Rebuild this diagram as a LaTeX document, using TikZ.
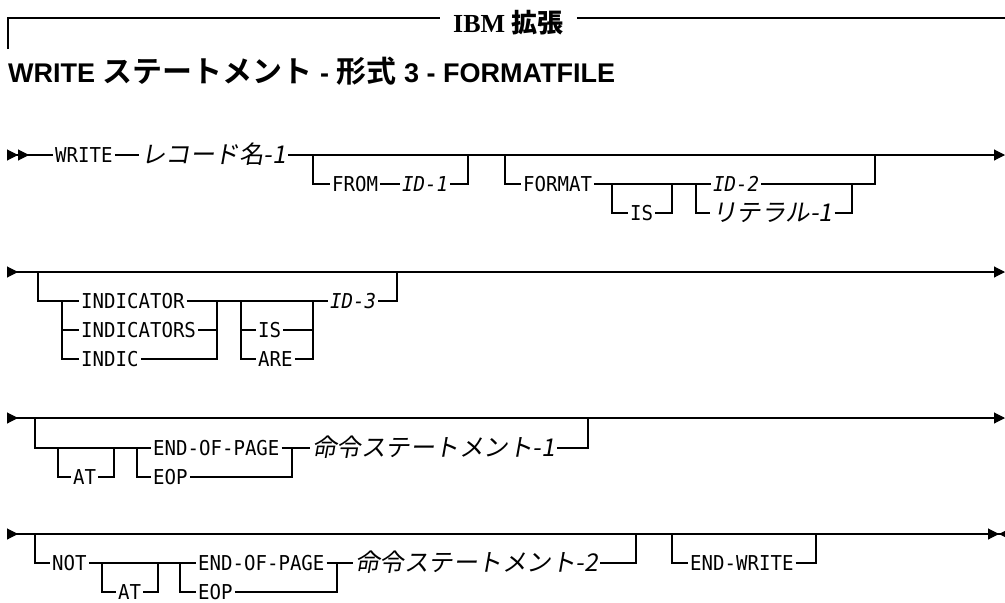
\documentclass[tikz,border=0pt]{standalone}
\usepackage{fontspec}
\setmainfont{Liberation Serif}
\newfontfamily\monofont{DejaVu Sans Mono}[FakeStretch=0.93]
\newfontfamily\jafont{Noto Sans CJK JP}[FakeSlant=0.18]
\newfontfamily\jabold{Noto Sans CJK JP Bold}
\newfontfamily\sansbold{Liberation Sans Bold}
\usetikzlibrary{arrows.meta}
\tikzset{
  tri/.tip={Triangle[length=11pt,width=11pt]},
  irt/.tip={Triangle[reversed,length=11pt,width=11pt]},
  rail/.style={
    line width=1.1pt,
    black
  },
  clave/.style={
    anchor=west,
    inner xsep=2pt,
    inner ysep=0pt,
    text height=14.9pt,
    text depth=0pt,
    font=\monofont\fontsize{20.5}{20.5}\selectfont
  },
  ident/.style={
    clave,
    font=\monofont\itshape\fontsize{20.5}{20.5}\selectfont
  },
  nombre/.style={
    anchor=west,
    inner xsep=2pt,
    inner ysep=0pt,
    text height=17.6pt,
    text depth=0pt,
    font=\jafont\fontsize{24.5}{24.5}\selectfont
  },
  cabecera/.style={
    anchor=base west,
    inner xsep=13pt,
    inner ysep=0pt,
    font=\bfseries\fontsize{26}{26}\selectfont
  },
  titulo/.style={
    anchor=base west,
    inner sep=0pt,
    font=\sansbold\fontsize{27}{27}\selectfont
  }
}
\begin{document}
\begin{tikzpicture}[x=1pt,y=-1pt]
\useasboundingbox (0,0) rectangle (1005,603);

% cabecera y titulo
\node[cabecera] (ibm) at (440,32) {IBM {\jabold 拡張}};
\coordinate (hl) at (8,18);
\coordinate (hb) at (8,49);
\coordinate (hr) at (1005,18);
\draw[rail] (hb) -- (hl) -- (hl -| ibm.west);
\draw[rail] (hl -| ibm.east) -- (hr);
\node[titulo] (tit) at (8,82) {WRITE {\jabold\fontsize{30}{30}\selectfont ステートメント} - {\jabold\fontsize{30}{30}\selectfont 形式} 3 - FORMATFILE};

% fila 1
\coordinate (a0) at (7,155);
\coordinate (a9) at (1005,155);
\coordinate (f1) at (313,155);
\coordinate (f2) at (468,155);
\coordinate (g1) at (505,155);
\coordinate (g2) at (875,155);
\coordinate (i1) at (612,184);
\coordinate (i2) at (672,184);
\coordinate (l1) at (696,184);
\coordinate (l2) at (852,184);
\node[clave] (write) at (53,155) {WRITE};
\node[nombre] (reg) at (139,155) {レコード名-1};
\node[clave] (from) at (330,184) {FROM};
\node[ident] (id1) at (400,184) {ID-1};
\node[clave] (format) at (521,184) {FORMAT};
\node[clave] (is1) at (628,213) {IS};
\node[ident] (id2) at (711,184) {ID-2};
\node[nombre] (lit) at (710,213) {リテラル-1};
\draw[rail,{irt[]irt[]}-] (a0) -- (write.west);
\draw[rail] (write.east) -- (reg.west);
\draw[rail,-{tri[]}] (reg.east) -- (a9);
\draw[rail] (f1) |- (from.west);
\draw[rail] (from.east) -- (id1.west);
\draw[rail] (id1.east) -| (f2);
\draw[rail] (g1) |- (format.west);
\draw[rail] (format.east) -- (id2.west);
\draw[rail] (i1) |- (is1.west);
\draw[rail] (is1.east) -| (i2);
\draw[rail] (l1) |- (lit.west);
\draw[rail] (lit.east) -| (l2);
\draw[rail] (id2.east) -| (g2);

% fila 2
\coordinate (b0) at (7,272);
\coordinate (b9) at (1005,272);
\coordinate (c1) at (38,272);
\coordinate (c2) at (397,272);
\coordinate (d1) at (62,301);
\coordinate (d2) at (217,301);
\coordinate (e1) at (241,301);
\coordinate (e2) at (313,301);
\node[clave] (ind) at (79,301) {INDICATOR};
\node[clave] (inds) at (79,330) {INDICATORS};
\node[clave] (indic) at (79,359) {INDIC};
\node[clave] (is2) at (256,330) {IS};
\node[clave] (are) at (256,359) {ARE};
\node[ident] (id3) at (328,301) {ID-3};
\draw[rail,{irt[]}-{tri[]}] (b0) -- (b9);
\draw[rail] (c1) |- (d1) -- (ind.west);
\draw[rail] (d1) |- (inds.west);
\draw[rail] (d1) |- (indic.west);
\draw[rail] (ind.east) -- (d2);
\draw[rail] (inds.east) -| (d2);
\draw[rail] (indic.east) -| (d2);
\draw[rail] (d2) -- (e1) -- (e2) -- (id3.west);
\draw[rail] (e1) |- (is2.west);
\draw[rail] (e1) |- (are.west);
\draw[rail] (is2.east) -| (e2);
\draw[rail] (are.east) -| (e2);
\draw[rail] (id3.east) -| (c2);

% fila 3
\coordinate (h0) at (7,418);
\coordinate (h9) at (1005,418);
\coordinate (k1) at (35,418);
\coordinate (k2) at (588,418);
\coordinate (m1) at (58,448);
\coordinate (m2) at (114,448);
\coordinate (n1) at (137,448);
\coordinate (n2) at (292,448);
\node[clave] (at1) at (71,477) {AT};
\node[clave] (eop1) at (151,448) {END-OF-PAGE};
\node[clave] (eopb1) at (151,477) {EOP};
\node[nombre] (ins1) at (310,448) {命令ステートメント-1};
\draw[rail,{irt[]}-{tri[]}] (h0) -- (h9);
\draw[rail] (k1) |- (m1) -- (m2) -- (n1) -- (eop1.west);
\draw[rail] (m1) |- (at1.west);
\draw[rail] (at1.east) -| (m2);
\draw[rail] (n1) |- (eopb1.west);
\draw[rail] (eopb1.east) -| (n2);
\draw[rail] (eop1.east) -- (ins1.west);
\draw[rail] (ins1.east) -| (k2);

% fila 4
\coordinate (p0) at (7,534);
\coordinate (p9) at (1010,534);
\coordinate (q1) at (35,534);
\coordinate (q2) at (636,534);
\coordinate (r1) at (102,563);
\coordinate (r2) at (158,563);
\coordinate (t1) at (180,563);
\coordinate (t2) at (337,563);
\coordinate (w1) at (672,534);
\coordinate (w2) at (816,534);
\node[clave] (not) at (50,563) {NOT};
\node[clave] (at2) at (116,592) {AT};
\node[clave] (eop2) at (196,563) {END-OF-PAGE};
\node[clave] (eopb2) at (196,592) {EOP};
\node[nombre] (ins2) at (353,563) {命令ステートメント-2};
\node[clave] (endw) at (688,563) {END-WRITE};
\draw[rail,{irt[]}-{tri[]irt[]}] (p0) -- (p9);
\draw[rail] (q1) |- (not.west);
\draw[rail] (not.east) -- (r1) -- (r2) -- (t1) -- (eop2.west);
\draw[rail] (r1) |- (at2.west);
\draw[rail] (at2.east) -| (r2);
\draw[rail] (t1) |- (eopb2.west);
\draw[rail] (eopb2.east) -| (t2);
\draw[rail] (eop2.east) -- (ins2.west);
\draw[rail] (ins2.east) -| (q2);
\draw[rail] (w1) |- (endw.west);
\draw[rail] (endw.east) -| (w2);
\end{tikzpicture}
\end{document}
